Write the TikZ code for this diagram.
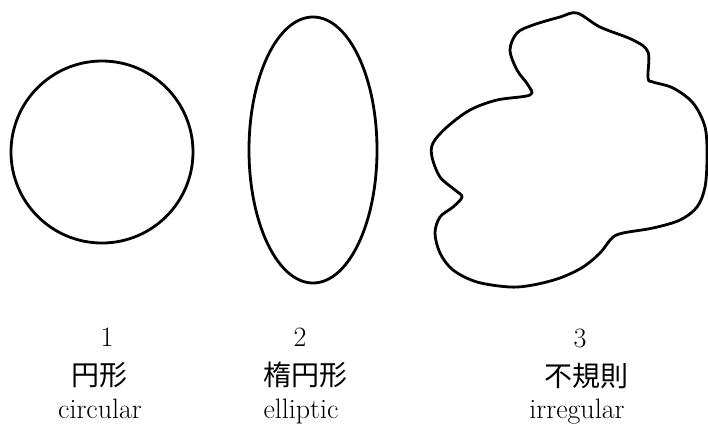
\documentclass[tikz,border=0pt]{standalone}
\usepackage{fontspec}
\newfontfamily\cjk{Noto Sans CJK JP}
\begin{document}
\begin{tikzpicture}[x=1pt,y=-1pt,
  outline/.style={draw=black,line width=2.8pt,line join=round},
  num/.style={inner sep=0pt,anchor=base,font=\fontsize{28}{30}\selectfont},
  cjklbl/.style={inner sep=0pt,font=\cjk\fontsize{28}{30}\selectfont},
  eng/.style={inner sep=0pt,anchor=base,font=\fontsize{28}{30}\selectfont}]
\useasboundingbox (0,0) rectangle (708,424);
\draw[outline] (102,152) circle[radius=91];
\draw[outline] (313,150) ellipse[x radius=64,y radius=133];
\draw[outline] plot[smooth cycle,tension=0.55] coordinates {
 (577,13) (600,27) (633,40) (648,52) (648,78) (653,82) (673,88) (693,103)
 (705,127) (707,157) (705,187) (697,207) (680,220) (653,228) (623,233)
 (612,238) (600,253) (583,267) (560,278) (533,285) (510,287) (477,282)
 (453,270) (440,253) (435,233) (440,217) (453,207) (462,197) (455,190)
 (440,177) (432,157) (433,143) (447,127) (470,110) (497,100) (530,95)
 (528,85) (517,70) (510,50) (517,33) (533,25) (560,17)};
\node[num] (n1) at (107,346) {1};
\node[cjklbl] (c1) at (99,375) {円形};
\node[eng] (e1) at (100,418) {circular};
\node[num] (n2) at (300,346) {2};
\node[cjklbl] (c2) at (305,375) {楕円形};
\node[eng] (e2) at (301,418) {elliptic};
\node[num] (n3) at (580,347) {3};
\node[cjklbl] (c3) at (586,376) {不規則};
\node[eng] (e3) at (577,418) {irregular};
\end{tikzpicture}
\end{document}
